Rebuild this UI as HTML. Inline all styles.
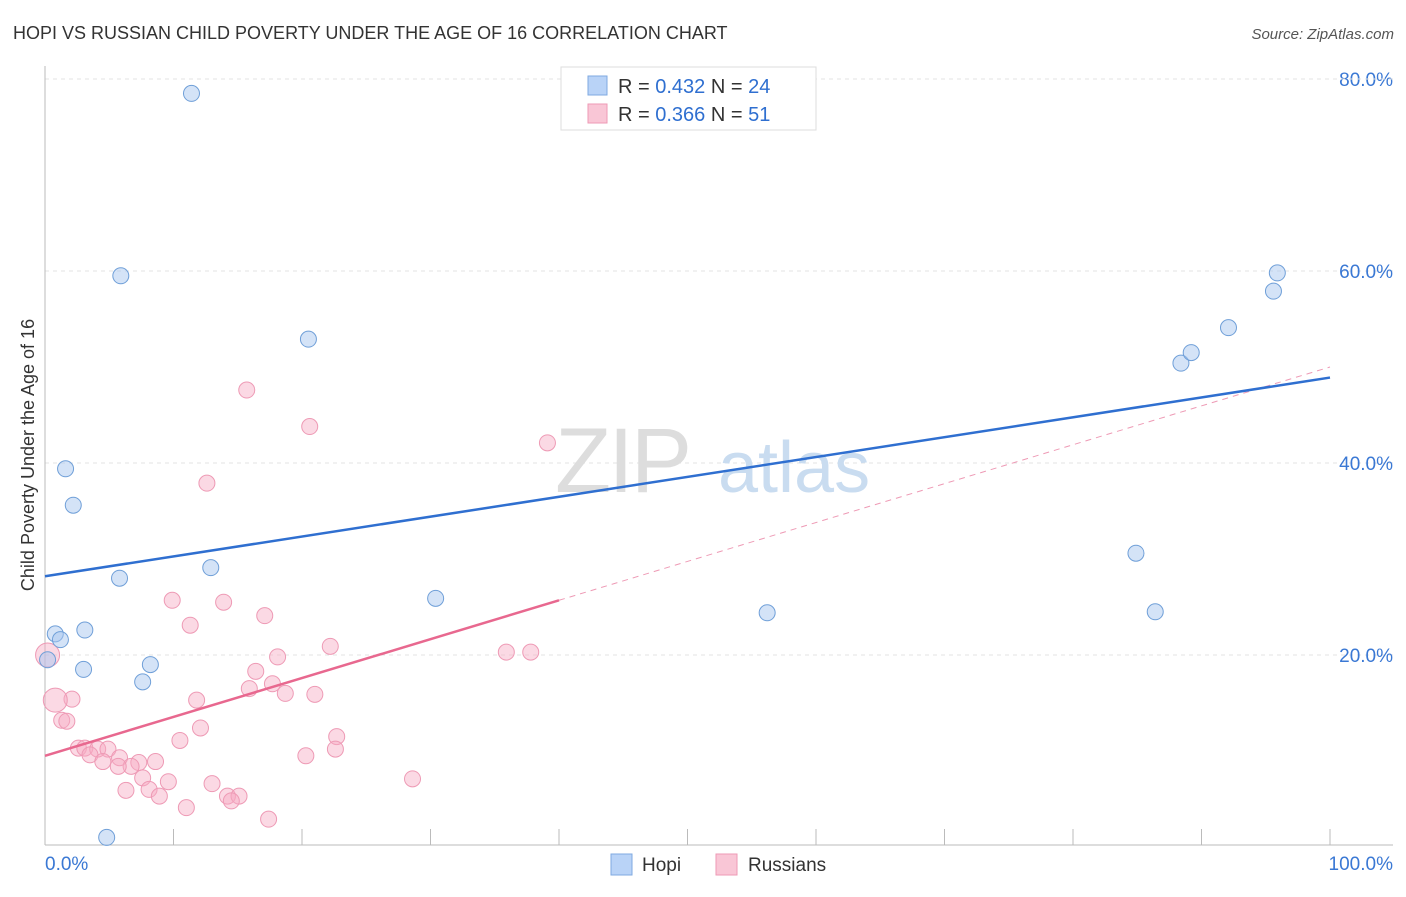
<!DOCTYPE html>
<html><head><meta charset="utf-8">
<style>
body{margin:0;background:#fff;font-family:"Liberation Sans",sans-serif;}
svg text{font-family:"Liberation Sans",sans-serif;}
</style></head>
<body>
<svg id="chart" width="1406" height="892" viewBox="0 0 1406 892" xmlns="http://www.w3.org/2000/svg">
<text x="13" y="39" font-size="18" fill="#333">HOPI VS RUSSIAN CHILD POVERTY UNDER THE AGE OF 16 CORRELATION CHART</text>
<text x="1394" y="39" font-size="15" fill="#555" text-anchor="end" font-style="italic">Source: ZipAtlas.com</text>
<g id="grid"></g>
<g id="watermark">
<text x="555" y="492" font-size="92" fill="#ddd" font-family="Liberation Serif" letter-spacing="-3">ZIP</text>
<text x="718" y="492" font-size="72" fill="#c9dcf0">atlas</text>
</g>
<text transform="translate(34,455) rotate(-90)" font-size="18" fill="#333" text-anchor="middle">Child Poverty Under the Age of 16</text>
<g id="axes"></g>
<g id="russians"></g>
<g id="hopi"></g>
<g id="lines"></g>
<g>
<rect x="561" y="67" width="255" height="63" fill="#fff" stroke="#ddd"/>
<rect x="588" y="76" width="19" height="19" fill="#b9d3f7" stroke="#7fa9e0"/>
<rect x="588" y="104" width="19" height="19" fill="#f9c6d6" stroke="#ee9ab5"/>
<text x="618" y="93" font-size="20" fill="#333">R = <tspan fill="#2f6fd0">0.432</tspan>   N = <tspan fill="#2f6fd0">24</tspan></text>
<text x="618" y="121" font-size="20" fill="#333">R = <tspan fill="#2f6fd0">0.366</tspan>   N =  <tspan fill="#2f6fd0">51</tspan></text>
</g>
<g>
<rect x="611" y="854" width="21" height="21" fill="#b9d3f7" stroke="#7fa9e0"/>
<text x="642" y="871" font-size="19" fill="#333">Hopi</text>
<rect x="716" y="854" width="21" height="21" fill="#f9c6d6" stroke="#ee9ab5"/>
<text x="748" y="871" font-size="19" fill="#333">Russians</text>
</g>
</svg>
<script>
const hopiX=[11.4,5.9,20.5,1.6,2.2,5.8,12.9,30.4,0.8,3.1,1.2,3.0,8.2,7.6,0.2,4.8,56.2,84.9,86.4,88.4,89.2,92.1,95.6,95.9];
const hopiY=[78.5,59.5,52.9,39.4,35.6,28.0,29.1,25.9,22.2,22.6,21.6,18.5,19.0,17.2,19.5,1.0,24.4,30.6,24.5,50.4,51.5,54.1,57.9,59.8];
const rusX=[15.7,20.6,39.1,12.6,9.9,13.9,17.1,11.3,22.2,35.9,37.8,18.1,0.2,16.4,17.7,15.9,18.7,21.0,11.8,2.1,0.8,1.3,1.7,12.1,10.5,22.7,22.6,20.3,2.6,3.1,4.1,4.9,3.5,5.8,4.5,8.6,7.3,6.7,5.7,7.6,9.6,28.6,13.0,6.3,8.1,8.9,14.2,15.1,14.5,11.0,17.4];
const rusY=[47.6,43.8,42.1,37.9,25.7,25.5,24.1,23.1,20.9,20.3,20.3,19.8,20.0,18.3,17.0,16.5,16.0,15.9,15.3,15.4,15.3,13.2,13.1,12.4,11.1,11.5,10.2,9.5,10.3,10.3,10.2,10.2,9.6,9.3,8.9,8.9,8.8,8.4,8.4,7.2,6.8,7.1,6.6,5.9,6.0,5.3,5.3,5.3,4.8,4.1,2.9];
const rusBig=[12,20];
const yTicks=[20,40,60,80];
const yTickLabels=["20.0%","40.0%","60.0%","80.0%"];
const xTickVals=[0,10,20,30,40,50,60,70,80,90,100];
const hopiTrend=[28.2,48.9];
const rusTrend=[9.5,50.0];
const rusSolidEnd=40;

const NS="http://www.w3.org/2000/svg";
const sx=v=>45+v*12.85;
const sy=v=>847-v*9.6;
function mk(tag,attrs,parent){const e=document.createElementNS(NS,tag);for(const k in attrs)e.setAttribute(k,attrs[k]);parent.appendChild(e);return e;}
const grid=document.getElementById('grid');
yTicks.forEach((t,i)=>{
  const l=mk('line',{x1:45,x2:1393,y1:sy(t),y2:sy(t),stroke:'#e3e3e3','stroke-dasharray':'4,4'},grid);
  
  
  const tx=mk('text',{x:1393,y:sy(t)+7,'font-size':19,fill:'#3a78d4','text-anchor':'end'},grid);
  tx.textContent=yTickLabels[i];
  
  
});
const topg=mk('line',{x1:45,x2:1393,y1:79,y2:79,stroke:'#e3e3e3','stroke-dasharray':'4,4'},grid);
const axes=document.getElementById('axes');
const ya=mk('line',{x1:45,x2:45,y1:66,y2:845,stroke:'#bbb'},axes);


const xa=mk('line',{x1:45,x2:1393,y1:845,y2:845,stroke:'#bbb'},axes);


xTickVals.forEach(v=>{
  const t=mk('line',{x1:sx(v),x2:sx(v),y1:829,y2:845,stroke:'#bbb'},axes);
  
  
});
const xl0=mk('text',{x:45,y:870,'font-size':19,fill:'#3a78d4'},axes);xl0.textContent='0.0%';


const xl1=mk('text',{x:1393,y:870,'font-size':19,fill:'#3a78d4','text-anchor':'end'},axes);xl1.textContent='100.0%';



const rg=document.getElementById('russians');
rusX.forEach((x,i)=>{
  const c=mk('circle',{cx:sx(x),cy:sy(rusY[i]),r:rusBig.includes(i)?12:8,fill:'rgba(246,170,195,0.45)',stroke:'#ee9ab5','stroke-width':1},rg);
  
  
});
const hg=document.getElementById('hopi');
hopiX.forEach((x,i)=>{
  const c=mk('circle',{cx:sx(x),cy:sy(hopiY[i]),r:8,fill:'rgba(170,200,240,0.5)',stroke:'#6f9fd8','stroke-width':1},hg);
  
  
});
const lg=document.getElementById('lines');
const rAt=v=>rusTrend[0]+(rusTrend[1]-rusTrend[0])*v/100;
const d=mk('line',{x1:sx(rusSolidEnd),y1:sy(rAt(rusSolidEnd)),x2:sx(100),y2:sy(rusTrend[1]),stroke:'#ee9ab5','stroke-width':1,'stroke-dasharray':'6,5'},lg);


const rl=mk('line',{x1:sx(0),y1:sy(rusTrend[0]),x2:sx(rusSolidEnd),y2:sy(rAt(rusSolidEnd)),stroke:'#e8688f','stroke-width':2.5},lg);


const hl=mk('line',{x1:sx(0),y1:sy(hopiTrend[0]),x2:sx(100),y2:sy(hopiTrend[1]),stroke:'#2f6fd0','stroke-width':2.5},lg);


</script>
</body></html>
